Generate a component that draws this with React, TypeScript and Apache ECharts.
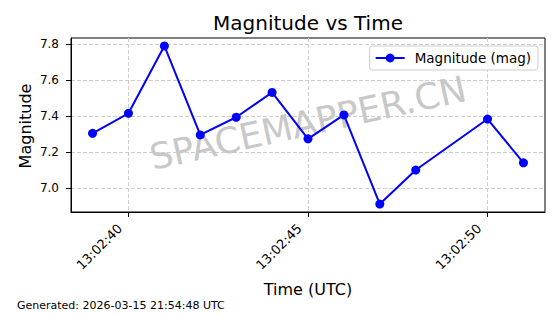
import React, { useEffect, useRef } from "react";
import * as echarts from "echarts";

const titleText = "Magnitude vs Time";
const seriesName = "Magnitude (mag)";
const xAxisName = "Time (UTC)";
const yAxisName = "Magnitude";
const footnote = "Generated: 2026-03-15 21:54:48 UTC";
const watermark = "SPACEMAPPER.CN";

const times = [
  "13:02:39", "13:02:40", "13:02:41", "13:02:42", "13:02:43", "13:02:44",
  "13:02:45", "13:02:46", "13:02:47", "13:02:48", "13:02:50", "13:02:51",
];
const magnitudes = [7.304, 7.415, 7.789, 7.295, 7.393, 7.531, 7.273, 7.406, 6.911, 7.1, 7.383, 7.14];
const xTickLabels = ["13:02:40", "13:02:45", "13:02:50"];
const yTicks = [7.0, 7.2, 7.4, 7.6, 7.8];

const toSec = (t: string) => {
  const [h, m, s] = t.split(":").map(Number);
  return h * 3600 + m * 60 + s;
};
const fmt = (v: number) => {
  const r = Math.round(v);
  const h = Math.floor(r / 3600);
  const m = Math.floor((r % 3600) / 60);
  const s = r % 60;
  return [h, m, s].map((n) => String(n).padStart(2, "0")).join(":");
};

const FONT = "DejaVu Sans";

export default function App() {
  const ref = useRef<HTMLDivElement>(null);
  useEffect(() => {
    if (!ref.current) return;
    const chart = echarts.init(ref.current, undefined, { renderer: "svg" });
    const xs = times.map(toSec);
    const xMinD = Math.min(...xs), xMaxD = Math.max(...xs);
    const yMinD = Math.min(...magnitudes), yMaxD = Math.max(...magnitudes);
    const xPad = (xMaxD - xMinD) * 0.05;
    const yPad = (yMaxD - yMinD) * 0.05;
    const xTicks = xTickLabels.map(toSec);

    const gridLeft = 71, gridRight = 15, gridTop = 38, gridBottom = 102;
    const cx = gridLeft + (560 - gridLeft - gridRight) / 2;
    const cy = gridTop + (314 - gridTop - gridBottom) / 2;

    chart.setOption({
      animation: false,
      backgroundColor: "#ffffff",
      textStyle: { fontFamily: FONT },
      grid: {
        left: gridLeft, right: gridRight, top: gridTop, bottom: gridBottom,
        show: true, borderColor: "#000000", borderWidth: 1, backgroundColor: "transparent",
        containLabel: false,
      },
      legend: {
        show: true,
        data: [seriesName],
        right: 22, top: 46,
        orient: "horizontal",
        padding: [5, 7, 5, 5],
        itemWidth: 29, itemHeight: 11,
        backgroundColor: "rgba(255,255,255,0.8)",
        borderColor: "#cccccc", borderWidth: 1, borderRadius: 3,
        textStyle: { fontFamily: FONT, fontSize: 13.5, color: "#000000", padding: [0, 0, 0, 5] },
      },
      xAxis: {
        type: "value",
        min: xMinD - xPad,
        max: xMaxD + xPad,
        axisLine: { show: true, lineStyle: { color: "#000000", width: 1 } },
        axisTick: { show: true, length: 5, inside: false, customValues: xTicks, lineStyle: { color: "#000000" } },
        axisLabel: {
          show: true, customValues: xTicks, rotate: 45, margin: 17,
          align: "right", verticalAlign: "bottom", padding: [0, 4, 1.5, 0],
          fontFamily: FONT, fontSize: 13, color: "#000000",
          formatter: (v: number) => fmt(v),
        },
        splitLine: { show: true, lineStyle: { color: "#cfcfcf", width: 1, type: [4, 2] } },
      },
      yAxis: {
        type: "value",
        min: yMinD - yPad,
        max: yMaxD + yPad,
        axisLine: { show: true, lineStyle: { color: "#000000", width: 1 } },
        axisTick: { show: true, length: 5, inside: false, customValues: yTicks, lineStyle: { color: "#000000" } },
        axisLabel: {
          show: true, customValues: yTicks, margin: 12,
          fontFamily: FONT, fontSize: 12, color: "#000000",
          formatter: (v: number) => v.toFixed(1),
        },
        splitLine: { show: true, lineStyle: { color: "#cfcfcf", width: 1, type: [4, 2] } },
      },
      graphic: [
        {
          type: "text", x: cx, y: cy - 2, rotation: (12.5 * Math.PI) / 180, z: 1,
          style: { text: watermark, fill: "#c8c8c8", font: `36px '${FONT}'`, align: "center", verticalAlign: "middle" },
        },
        {
          type: "text", x: cx, y: 23,
          style: { text: titleText, fill: "#000000", font: `20px '${FONT}'`, align: "center", verticalAlign: "middle" },
        },
        {
          type: "text", x: 25, y: cy + 1, rotation: Math.PI / 2,
          style: { text: yAxisName, fill: "#000000", font: `16px '${FONT}'`, align: "center", verticalAlign: "middle" },
        },
        {
          type: "text", x: cx, y: 289,
          style: { text: xAxisName, fill: "#000000", font: `16px '${FONT}'`, align: "center", verticalAlign: "middle" },
        },
        {
          type: "text", x: 17, y: 305,
          style: { text: footnote, fill: "#000000", font: `11px '${FONT}'`, align: "left", verticalAlign: "middle" },
        },
      ],
      series: [
        {
          name: seriesName,
          type: "line",
          z: 3,
          data: xs.map((x, i) => [x, magnitudes[i]]),
          symbol: "circle",
          symbolSize: 9,
          showAllSymbol: true,
          lineStyle: { color: "#0000ff", width: 2 },
          itemStyle: { color: "#0000ff" },
          emphasis: { disabled: true },
        },
      ],
    });
    return () => chart.dispose();
  }, []);
  return <div ref={ref} style={{ position: "fixed", left: 0, top: 0, width: 560, height: 314 }} />;
}
